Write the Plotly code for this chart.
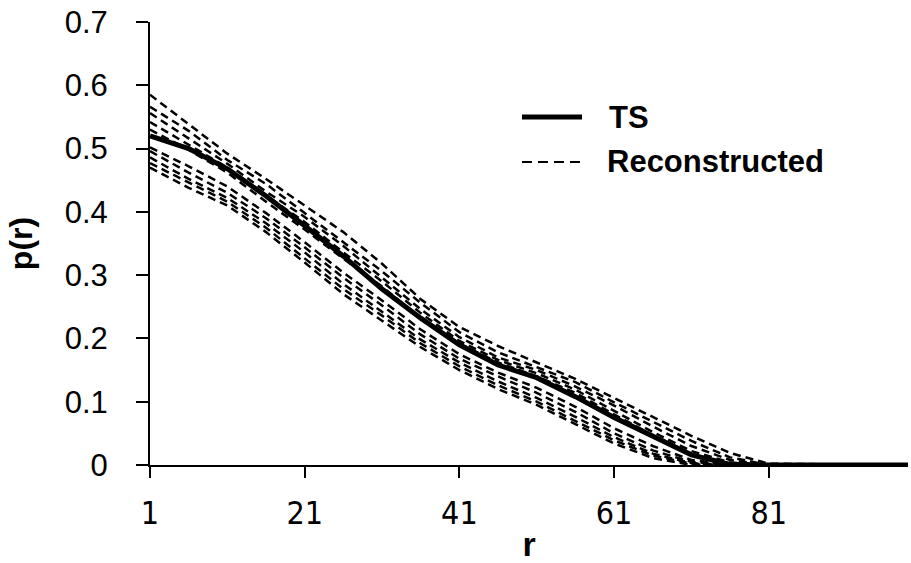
import plotly.graph_objects as go

# sample positions along r
r = [1, 6, 11, 16, 21, 26, 31, 36, 41, 46, 51, 56, 61, 66, 71, 76, 81, 99]

# target spectrum
ts = [0.520, 0.500, 0.468, 0.425, 0.378, 0.330, 0.278, 0.232, 0.190, 0.158,
      0.138, 0.108, 0.075, 0.045, 0.016, 0.001, 0.0, 0.0]

# reconstructed realisations
rec_1 = [0.585, 0.538, 0.492, 0.452, 0.410, 0.368, 0.318, 0.262, 0.218, 0.188,
         0.162, 0.136, 0.106, 0.076, 0.046, 0.019, 0.002, 0.0]
rec_2 = [0.566, 0.528, 0.482, 0.444, 0.398, 0.352, 0.306, 0.256, 0.210, 0.178,
         0.154, 0.131, 0.099, 0.068, 0.038, 0.012, 0.0, 0.0]
rec_3 = [0.556, 0.516, 0.476, 0.432, 0.392, 0.346, 0.296, 0.246, 0.202, 0.170,
         0.150, 0.124, 0.094, 0.061, 0.030, 0.008, 0.0, 0.0]
rec_4 = [0.542, 0.506, 0.470, 0.426, 0.384, 0.336, 0.290, 0.240, 0.196, 0.166,
         0.145, 0.119, 0.086, 0.052, 0.022, 0.004, 0.0, 0.0]
rec_5 = [0.530, 0.498, 0.462, 0.416, 0.372, 0.326, 0.282, 0.232, 0.192, 0.162,
         0.140, 0.114, 0.080, 0.047, 0.017, 0.002, 0.0, 0.0]
rec_6 = [0.502, 0.472, 0.440, 0.398, 0.352, 0.304, 0.260, 0.214, 0.175, 0.146,
         0.122, 0.092, 0.058, 0.030, 0.008, 0.0, 0.0, 0.0]
rec_7 = [0.496, 0.462, 0.430, 0.390, 0.344, 0.296, 0.252, 0.206, 0.168, 0.140,
         0.114, 0.084, 0.050, 0.023, 0.005, 0.0, 0.0, 0.0]
rec_8 = [0.486, 0.452, 0.422, 0.382, 0.336, 0.286, 0.242, 0.198, 0.162, 0.132,
         0.106, 0.076, 0.044, 0.018, 0.003, 0.0, 0.0, 0.0]
rec_9 = [0.477, 0.446, 0.416, 0.375, 0.326, 0.278, 0.236, 0.192, 0.156, 0.126,
         0.100, 0.070, 0.039, 0.015, 0.002, 0.0, 0.0, 0.0]
rec_10 = [0.470, 0.438, 0.410, 0.368, 0.320, 0.270, 0.228, 0.186, 0.150, 0.120,
          0.095, 0.064, 0.034, 0.011, 0.0, 0.0, 0.0, 0.0]

reconstructed = [rec_1, rec_2, rec_3, rec_4, rec_5, rec_6, rec_7, rec_8, rec_9, rec_10]

x_ticks = [1, 21, 41, 61, 81]
legend_labels = ["TS", "Reconstructed"]

fig = go.Figure()

for series in reconstructed:
    fig.add_trace(go.Scatter(
        x=r, y=series, mode="lines", showlegend=False,
        line=dict(color="black", width=2.5, dash="8px,5px"),
    ))

fig.add_trace(go.Scatter(
    x=r, y=ts, mode="lines", showlegend=False,
    line=dict(color="black", width=5),
))

# legend keys (pixel positions converted to paper fractions)
def px(x):
    return (x - 150) / 758


def py(y):
    return (465 - y) / 443


fig.add_shape(type="line", xref="paper", yref="paper",
              x0=px(522), x1=px(582), y0=py(117), y1=py(117),
              line=dict(color="black", width=5))
fig.add_shape(type="line", xref="paper", yref="paper",
              x0=px(522), x1=px(582), y0=py(162), y1=py(162),
              line=dict(color="black", width=2, dash="10px,6px"))
legend_font = dict(family="Liberation Sans", size=31, color="black", weight="bold")
fig.add_annotation(text=legend_labels[0], xref="paper", yref="paper",
                   x=px(607), y=py(117), xanchor="left", yanchor="middle",
                   showarrow=False, font=legend_font)
fig.add_annotation(text=legend_labels[1], xref="paper", yref="paper",
                   x=px(605), y=py(162), xanchor="left", yanchor="middle",
                   showarrow=False, font=legend_font)

y_tick_font = dict(family="Liberation Sans", size=31, color="black")
x_tick_font = dict(family="DejaVu Sans Condensed, Liberation Sans", size=32, color="black")

fig.update_layout(
    width=911, height=563,
    margin=dict(l=150, r=3, t=22, b=98),
    paper_bgcolor="white", plot_bgcolor="white",
    showlegend=False,
    xaxis=dict(
        range=[1, 99], tickvals=x_ticks, ticktext=[str(v) for v in x_ticks],
        ticks="outside", ticklen=11, tickwidth=2, tickcolor="black",
        showline=True, linewidth=2, linecolor="black",
        showgrid=False, zeroline=False, tickfont=x_tick_font,
        ticklabelstandoff=8,
        title=dict(text="r",
                   font=dict(family="Liberation Sans", size=34, color="black", weight="bold"),
                   standoff=2),
    ),
    yaxis=dict(
        range=[0, 0.7], dtick=0.1, tick0=0,
        ticks="outside", ticklen=12, tickwidth=2, tickcolor="black",
        showline=True, linewidth=2, linecolor="black",
        showgrid=False, zeroline=False, tickfont=y_tick_font,
        ticklabelstandoff=22,
        title=dict(text="p(r)",
                   font=dict(family="Liberation Sans", size=32, color="black", weight="bold"),
                   standoff=22),
    ),
)

fig.write_html("out.html")
